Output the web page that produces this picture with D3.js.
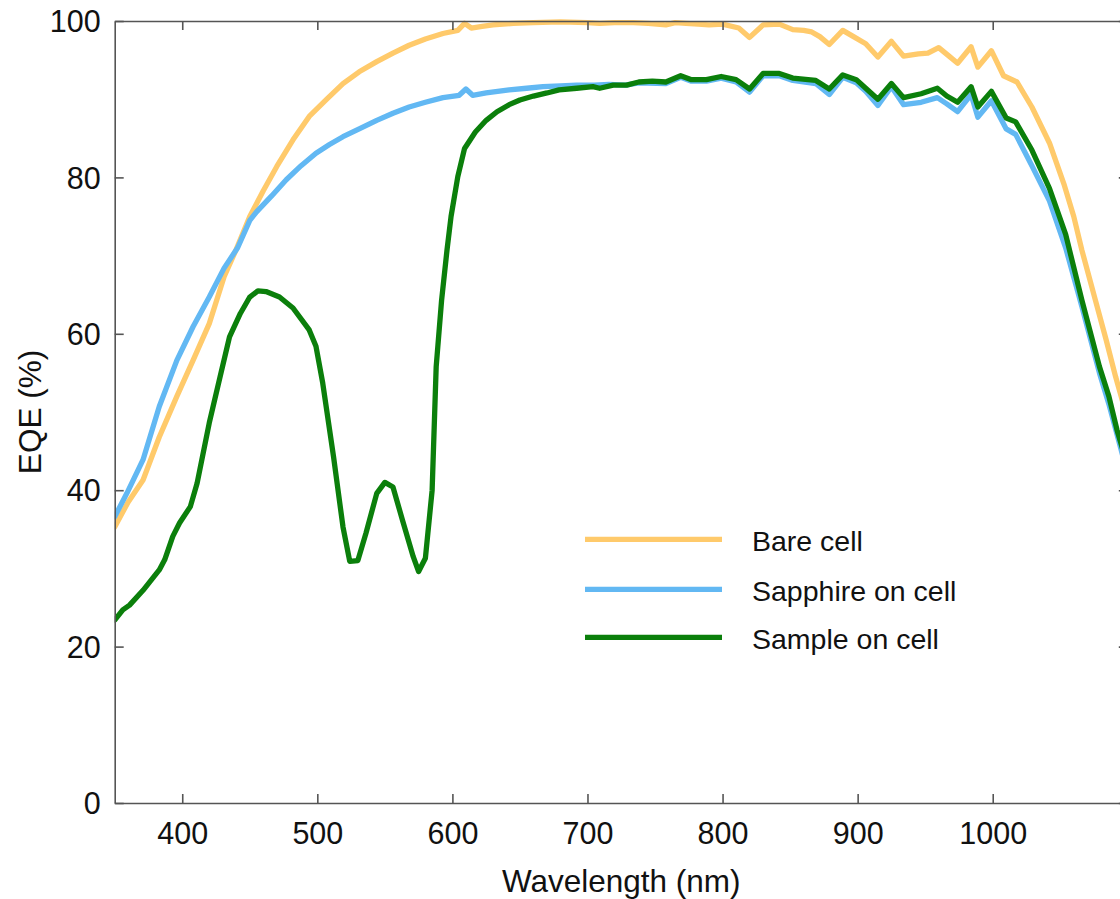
<!DOCTYPE html>
<html>
<head>
<meta charset="utf-8">
<script src="https://cdn.jsdelivr.net/npm/d3@7"></script>
<style>
  html, body { margin: 0; padding: 0; background: #fff; overflow: hidden; }
  svg { display: block; font-family: "Liberation Sans", Arial, sans-serif; }
</style>
</head>
<body>
<svg id="chart" width="1120" height="899"></svg>
<script>
// ---------------- data ----------------
const seriesNames = ["Bare cell", "Sapphire on cell", "Sample on cell"];

const wlBare = [350,360,371,383,396,408,420,431,440,450,460,470,482,494,507,519,531,544,556,568,580,593,604,609,614,622,630,645,660,680,700,709,720,734,745,758,765,773,782,790,800,812,820,830,842,852,860,866,872,879,889,896,906,915,925,934,945,952,960,967,974,984,989,999,1008,1018,1029,1042,1053,1060,1066,1076,1084,1091,1100];
const eqeBare = [35.3,38.5,41.3,46.8,52.0,56.6,61.3,67.3,70.8,75.0,78.3,81.4,84.8,87.8,90.0,92.0,93.5,94.8,95.9,96.9,97.7,98.4,98.8,99.7,99.1,99.3,99.5,99.7,99.8,99.9,99.8,99.7,99.8,99.8,99.7,99.5,99.8,99.7,99.6,99.5,99.6,99.1,97.9,99.5,99.6,98.9,98.8,98.6,98.0,97.0,98.8,98.1,97.1,95.4,97.4,95.5,95.8,95.9,96.6,95.6,94.6,96.7,94.1,96.2,93.0,92.2,89.0,84.4,79.0,75.0,70.7,64.3,59.2,54.5,49.0];

const wlSapphire = [350,359,371,383,396,408,420,431,441,450,455,466,477,488,499,509,519,531,544,556,568,580,593,605,610,615,625,642,655,667,680,692,705,716,728,738,758,769,777,788,799,810,820,830,842,852,869,879,889,899,906,915,925,934,947,959,966,974,984,989,999,1010,1017,1029,1042,1054,1066,1079,1086,1093,1100];
const eqeSapphire = [36.6,39.6,43.9,50.7,56.6,60.9,64.7,68.4,71.0,74.5,75.6,77.6,79.7,81.5,83.1,84.2,85.2,86.2,87.3,88.2,89.0,89.6,90.2,90.5,91.3,90.5,90.8,91.2,91.4,91.6,91.7,91.8,91.8,91.9,91.8,92.1,92.0,92.8,92.3,92.3,92.7,92.2,90.9,93.0,93.0,92.4,92.0,90.6,92.8,92.1,91.0,89.2,91.6,89.3,89.6,90.2,89.4,88.4,90.6,87.7,89.8,86.2,85.5,81.5,77.0,71.0,63.5,55.0,51.0,46.5,42.0];

const wlSample = [350,356,361,371,383,387,393,398,406,411,420,428,435,443,450,456,462,472,482,494,499,504,512,519,524,530,536,544,550,556,563,571,575,580,585,588,592,596,599,604,609,617,625,633,642,650,660,670,679,692,704,709,719,729,738,748,758,769,777,788,799,810,820,830,842,852,869,879,889,899,906,915,925,934,947,959,966,974,984,989,999,1010,1017,1029,1042,1054,1066,1079,1086,1092,1100];
const eqeSample = [23.4,24.7,25.3,27.2,29.8,31.1,34.1,35.8,37.9,40.9,48.6,54.5,59.6,62.6,64.7,65.5,65.4,64.7,63.3,60.5,58.4,53.7,44.3,35.3,30.9,31.0,34.5,39.6,41.0,40.4,36.2,31.5,29.6,31.3,40.0,55.8,64.3,70.7,75.0,80.1,83.7,85.8,87.3,88.4,89.3,89.9,90.4,90.8,91.2,91.4,91.6,91.4,91.8,91.8,92.2,92.3,92.2,93.0,92.5,92.5,92.9,92.5,91.3,93.3,93.3,92.7,92.4,91.3,93.1,92.5,91.4,90.0,92.0,90.2,90.7,91.4,90.4,89.6,91.6,89.0,91.0,87.6,87.1,83.5,78.6,72.7,64.3,55.8,52.0,47.7,43.0];

const xTicks = [400,500,600,700,800,900,1000];
const yTicks = [0,20,40,60,80,100];
const xTitle = "Wavelength (nm)";
const yTitle = "EQE (%)";

// ---------------- layout & styles ----------------
const colors = ["#FFCA6B", "#62B8F3", "#0B7F0B"];
const plot = { left: 114.7, top: 21, right: 1127.8, bottom: 803 };
const axisColor = "#555";
const tickFont = 30.5;
const titleFont = 31.5;
const legendFont = 28.5;

const svg = d3.select("#chart");

const x = d3.scaleLinear().domain([350, 1100]).range([plot.left, plot.right]);
const y = d3.scaleLinear().domain([0, 100]).range([plot.bottom, plot.top]);

svg.append("defs").append("clipPath").attr("id", "clip")
  .append("rect")
  .attr("x", plot.left).attr("y", plot.top - 4)
  .attr("width", plot.right - plot.left).attr("height", plot.bottom - plot.top + 4);

// series lines
const series = [
  { name: seriesNames[0], wl: wlBare, v: eqeBare, color: colors[0] },
  { name: seriesNames[1], wl: wlSapphire, v: eqeSapphire, color: colors[1] },
  { name: seriesNames[2], wl: wlSample, v: eqeSample, color: colors[2] }
];

const line = d3.line()
  .x(d => x(d[0]))
  .y(d => y(d[1]))
  .curve(d3.curveLinear);

const gLines = svg.append("g").attr("clip-path", "url(#clip)");
series.forEach(s => {
  gLines.append("path")
    .datum(s.wl.map((w, i) => [w, s.v[i]]))
    .attr("fill", "none")
    .attr("stroke", s.color)
    .attr("stroke-width", 5.3)
    .attr("stroke-linejoin", "round")
    .attr("stroke-linecap", "round")
    .attr("d", line);
});

// axes (box with inward ticks)
const tickLen = 9;
function styleAxis(g) {
  g.select(".domain").attr("stroke", axisColor).attr("stroke-width", 1.6);
  g.selectAll(".tick line").attr("stroke", axisColor).attr("stroke-width", 1.6);
  g.selectAll("text").attr("fill", "#111").style("font-size", tickFont + "px")
    .style("font-family", '"Liberation Sans", Arial, sans-serif');
}

const gBottom = svg.append("g")
  .attr("transform", `translate(0,${plot.bottom})`)
  .call(d3.axisBottom(x).tickValues(xTicks).tickSizeInner(-tickLen).tickSizeOuter(0).tickPadding(0).tickFormat(d3.format("d")));
styleAxis(gBottom);
gBottom.selectAll("text").attr("y", 41).attr("dy", null);

const gTop = svg.append("g")
  .attr("transform", `translate(0,${plot.top})`)
  .call(d3.axisTop(x).tickValues(xTicks).tickSizeInner(-tickLen).tickSizeOuter(0).tickFormat(""));
styleAxis(gTop);

const gLeft = svg.append("g")
  .attr("transform", `translate(${plot.left},0)`)
  .call(d3.axisLeft(y).tickValues(yTicks).tickSizeInner(-tickLen).tickSizeOuter(0).tickPadding(0).tickFormat(d3.format("d")));
styleAxis(gLeft);
gLeft.selectAll("text").attr("x", -14).attr("dy", "0.35em");

const gRight = svg.append("g")
  .attr("transform", `translate(${plot.right},0)`)
  .call(d3.axisRight(y).tickValues(yTicks).tickSizeInner(-tickLen).tickSizeOuter(0).tickFormat(""));
styleAxis(gRight);

// axis titles
svg.append("text")
  .attr("x", (plot.left + plot.right) / 2)
  .attr("y", 892)
  .attr("text-anchor", "middle")
  .attr("fill", "#111")
  .style("font-size", titleFont + "px")
  .text(xTitle);

svg.append("text")
  .attr("transform", `translate(41,${(plot.top + plot.bottom) / 2}) rotate(-90)`)
  .attr("text-anchor", "middle")
  .attr("fill", "#111")
  .style("font-size", titleFont + "px")
  .text(yTitle);

// legend
const legendYs = [539.3, 589.3, 637.3];
const gLegend = svg.append("g");
series.forEach((s, i) => {
  gLegend.append("line")
    .attr("x1", 585).attr("x2", 722)
    .attr("y1", legendYs[i]).attr("y2", legendYs[i])
    .attr("stroke", s.color).attr("stroke-width", 5.3);
  gLegend.append("text")
    .attr("x", 752).attr("y", legendYs[i] + 12)
    .attr("fill", "#111")
    .style("font-size", legendFont + "px")
    .text(s.name);
});
</script>
</body>
</html>
